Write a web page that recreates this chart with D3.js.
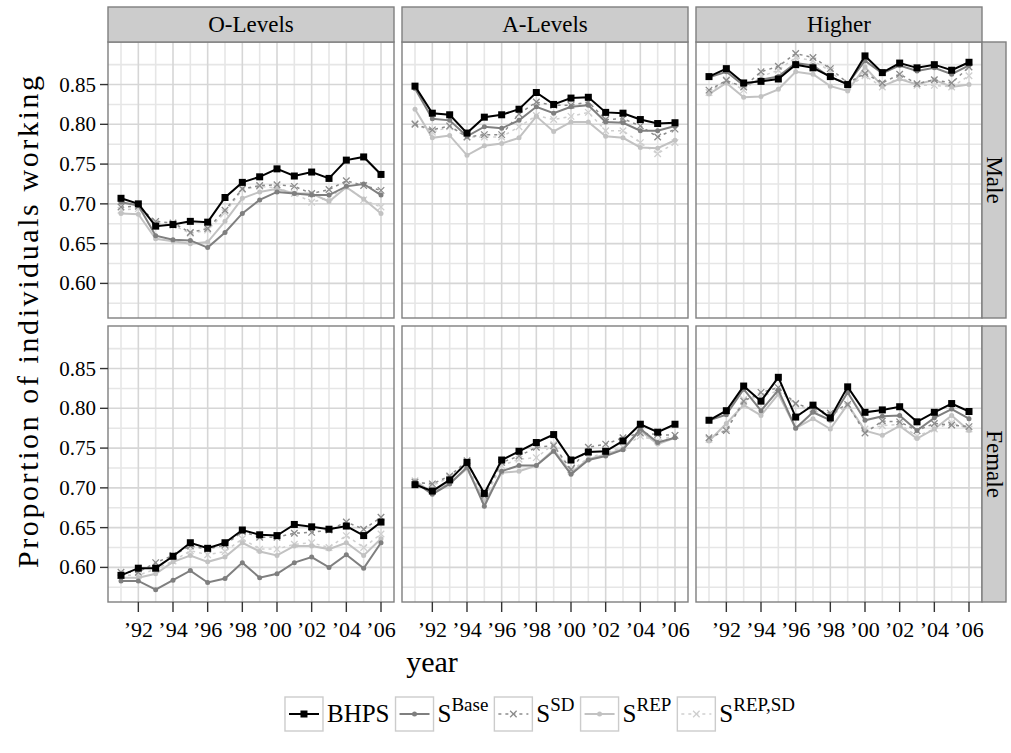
<!DOCTYPE html>
<html>
<head>
<meta charset="utf-8">
<script src="https://cdn.jsdelivr.net/npm/d3@7"></script>
<style>
  html, body { margin: 0; padding: 0; background: #fff; }
  svg { display: block; }
  text { font-family: "Liberation Serif", "DejaVu Serif", serif; fill: #000; }
</style>
</head>
<body>
<svg id="chart" width="1011" height="753" font-family="Liberation Serif, DejaVu Serif, serif"></svg>
<script>
(function() {

  // ---- data ----
  const years = [1991, 1992, 1993, 1994, 1995, 1996, 1997, 1998, 1999, 2000, 2001, 2002, 2003, 2004, 2005, 2006];
  const levels = ['O-Levels', 'A-Levels', 'Higher'];
  const sexes = ['Male', 'Female'];
  const seriesNames = ['BHPS', 'S^Base', 'S^SD', 'S^REP', 'S^REP,SD'];
  const xTickYears = [1992, 1994, 1996, 1998, 2000, 2002, 2004, 2006];
  const xTickLabels = ["\u201992", "\u201994", "\u201996", "\u201998", "\u201900", "\u201902", "\u201904", "\u201906"];
  const yTicks = [0.60, 0.65, 0.70, 0.75, 0.80, 0.85];
  const yTickLabels = ['0.60', '0.65', '0.70', '0.75', '0.80', '0.85'];

  // Male, O-Levels
  const maleOBhps  = [0.707, 0.700, 0.672, 0.674, 0.678, 0.677, 0.708, 0.727, 0.734, 0.744, 0.735, 0.740, 0.732, 0.755, 0.759, 0.737];
  const maleOBase  = [0.702, 0.698, 0.660, 0.655, 0.654, 0.645, 0.664, 0.688, 0.705, 0.715, 0.713, 0.711, 0.711, 0.722, 0.725, 0.711];
  const maleOSd    = [0.696, 0.697, 0.678, 0.676, 0.664, 0.669, 0.692, 0.719, 0.723, 0.724, 0.722, 0.713, 0.718, 0.729, 0.723, 0.717];
  const maleORep   = [0.688, 0.687, 0.656, 0.653, 0.650, 0.652, 0.678, 0.707, 0.715, 0.719, 0.713, 0.713, 0.703, 0.721, 0.706, 0.688];
  const maleORepSd = [0.692, 0.694, 0.676, 0.673, 0.663, 0.667, 0.689, 0.718, 0.722, 0.720, 0.713, 0.702, 0.708, 0.722, 0.705, 0.696];

  // Male, A-Levels
  const maleABhps  = [0.848, 0.814, 0.812, 0.789, 0.809, 0.812, 0.819, 0.840, 0.825, 0.833, 0.834, 0.815, 0.814, 0.806, 0.801, 0.802];
  const maleABase  = [0.845, 0.807, 0.805, 0.785, 0.797, 0.795, 0.805, 0.822, 0.814, 0.822, 0.824, 0.803, 0.802, 0.792, 0.792, 0.798];
  const maleASd    = [0.800, 0.793, 0.798, 0.784, 0.787, 0.787, 0.813, 0.828, 0.824, 0.824, 0.828, 0.806, 0.807, 0.798, 0.784, 0.794];
  const maleARep   = [0.819, 0.783, 0.786, 0.761, 0.773, 0.776, 0.783, 0.810, 0.791, 0.803, 0.803, 0.785, 0.783, 0.771, 0.770, 0.780];
  const maleARepSd = [0.801, 0.790, 0.797, 0.784, 0.784, 0.784, 0.797, 0.811, 0.806, 0.810, 0.815, 0.792, 0.792, 0.777, 0.763, 0.777];

  // Male, Higher
  const maleHBhps  = [0.860, 0.870, 0.852, 0.854, 0.857, 0.875, 0.871, 0.860, 0.850, 0.886, 0.865, 0.877, 0.871, 0.875, 0.868, 0.878];
  const maleHBase  = [0.859, 0.866, 0.849, 0.856, 0.860, 0.877, 0.874, 0.859, 0.851, 0.880, 0.864, 0.874, 0.867, 0.871, 0.863, 0.874];
  const maleHSd    = [0.843, 0.855, 0.847, 0.866, 0.873, 0.889, 0.884, 0.870, 0.852, 0.864, 0.852, 0.863, 0.851, 0.856, 0.852, 0.872];
  const maleHRep   = [0.838, 0.852, 0.834, 0.835, 0.844, 0.866, 0.863, 0.848, 0.842, 0.872, 0.848, 0.857, 0.850, 0.856, 0.847, 0.850];
  const maleHRepSd = [0.840, 0.856, 0.843, 0.860, 0.868, 0.884, 0.880, 0.867, 0.847, 0.861, 0.847, 0.859, 0.849, 0.849, 0.847, 0.861];

  // Female, O-Levels
  const femOBhps  = [0.590, 0.599, 0.599, 0.614, 0.631, 0.624, 0.631, 0.647, 0.641, 0.640, 0.654, 0.651, 0.648, 0.652, 0.640, 0.657];
  const femOBase  = [0.583, 0.583, 0.572, 0.584, 0.596, 0.581, 0.586, 0.606, 0.587, 0.592, 0.606, 0.613, 0.600, 0.616, 0.599, 0.631];
  const femOSd    = [0.594, 0.594, 0.606, 0.615, 0.627, 0.623, 0.628, 0.645, 0.638, 0.638, 0.643, 0.644, 0.647, 0.657, 0.648, 0.663];
  const femORep   = [0.587, 0.587, 0.592, 0.607, 0.615, 0.607, 0.613, 0.631, 0.620, 0.615, 0.627, 0.627, 0.623, 0.631, 0.615, 0.636];
  const femORepSd = [0.590, 0.590, 0.598, 0.608, 0.621, 0.616, 0.620, 0.636, 0.623, 0.623, 0.629, 0.631, 0.625, 0.640, 0.625, 0.642];

  // Female, A-Levels
  const femABhps  = [0.704, 0.696, 0.710, 0.732, 0.693, 0.735, 0.746, 0.757, 0.767, 0.735, 0.745, 0.746, 0.759, 0.780, 0.770, 0.780];
  const femABase  = [0.707, 0.692, 0.705, 0.726, 0.677, 0.721, 0.728, 0.728, 0.746, 0.717, 0.735, 0.740, 0.748, 0.774, 0.757, 0.763];
  const femASd    = [0.707, 0.705, 0.715, 0.734, 0.690, 0.732, 0.740, 0.751, 0.753, 0.723, 0.751, 0.755, 0.763, 0.769, 0.767, 0.766];
  const femARep   = [0.709, 0.694, 0.706, 0.724, 0.682, 0.719, 0.721, 0.728, 0.748, 0.719, 0.736, 0.742, 0.749, 0.772, 0.755, 0.763];
  const femARepSd = [0.709, 0.703, 0.713, 0.728, 0.686, 0.728, 0.736, 0.738, 0.755, 0.721, 0.738, 0.744, 0.751, 0.765, 0.759, 0.766];

  // Female, Higher
  const femHBhps  = [0.785, 0.797, 0.828, 0.809, 0.839, 0.789, 0.804, 0.788, 0.827, 0.795, 0.798, 0.802, 0.783, 0.795, 0.806, 0.796];
  const femHBase  = [0.785, 0.792, 0.824, 0.797, 0.823, 0.775, 0.795, 0.785, 0.820, 0.785, 0.790, 0.791, 0.772, 0.788, 0.799, 0.787];
  const femHSd    = [0.763, 0.772, 0.809, 0.820, 0.826, 0.806, 0.799, 0.794, 0.805, 0.769, 0.784, 0.783, 0.772, 0.781, 0.779, 0.777];
  const femHRep   = [0.759, 0.781, 0.804, 0.791, 0.818, 0.775, 0.787, 0.774, 0.805, 0.772, 0.766, 0.778, 0.762, 0.774, 0.791, 0.772];
  const femHRepSd = [0.761, 0.774, 0.811, 0.815, 0.822, 0.805, 0.797, 0.791, 0.803, 0.774, 0.778, 0.780, 0.765, 0.774, 0.782, 0.774];

  // panel lookup: [sex][level] -> list of series in seriesNames order
  const panelData = [
    [[maleOBhps, maleOBase, maleOSd, maleORep, maleORepSd],
     [maleABhps, maleABase, maleASd, maleARep, maleARepSd],
     [maleHBhps, maleHBase, maleHSd, maleHRep, maleHRepSd]],
    [[femOBhps, femOBase, femOSd, femORep, femORepSd],
     [femABhps, femABase, femASd, femARep, femARepSd],
     [femHBhps, femHBase, femHSd, femHRep, femHRepSd]]
  ];

  // ---- styles per series ----
  const styles = [
    { color: '#000000', dash: null,  shape: 'square', width: 2 },
    { color: '#7f7f7f', dash: null,  shape: 'circle', width: 2 },
    { color: '#8c8c8c', dash: '3,4', shape: 'cross',  width: 1.5 },
    { color: '#c2c2c2', dash: null,  shape: 'circle', width: 2 },
    { color: '#cfcfcf', dash: '3,4', shape: 'cross',  width: 1.5 }
  ];

  const serif = 'Liberation Serif, DejaVu Serif, serif';

  // ---- layout ----
  const colX = [108, 402, 696];
  const rowY = [42, 326];
  const pw = 286;
  const ph = 276;
  const stripH = 35;
  const stripW = 24;

  const svg = d3.select('#chart');

  const x = d3.scaleLinear().domain([1990.25, 2006.75]).range([0, pw]);
  const y = d3.scaleLinear().domain([0.5565, 0.9035]).range([ph, 0]);

  const majorX = xTickYears;
  const minorX = [1991, 1993, 1995, 1997, 1999, 2001, 2003, 2005];
  const minorY = [0.575, 0.625, 0.675, 0.725, 0.775, 0.825, 0.875];

  function drawMarker(g, shape, cx, cy, color, size) {
    if (shape === 'square') {
      g.append('rect')
        .attr('x', cx - size / 2).attr('y', cy - size / 2)
        .attr('width', size).attr('height', size)
        .attr('fill', color);
    } else if (shape === 'circle') {
      g.append('circle')
        .attr('cx', cx).attr('cy', cy).attr('r', size / 2.6)
        .attr('fill', color);
    } else {
      const h = size / 2;
      g.append('path')
        .attr('d', `M${cx - h},${cy - h}L${cx + h},${cy + h}M${cx - h},${cy + h}L${cx + h},${cy - h}`)
        .attr('stroke', color).attr('stroke-width', 1.3).attr('fill', 'none');
    }
  }

  function addText(g, size) {
    return g.append('text').attr('font-family', serif).style('font-size', size + 'px');
  }

  const line = d3.line()
    .x((d, i) => x(years[i]))
    .y(d => y(d));

  sexes.forEach((sex, r) => {
    levels.forEach((lev, c) => {
      const g = svg.append('g').attr('transform', `translate(${colX[c]},${rowY[r]})`);

      g.append('rect').attr('width', pw).attr('height', ph).attr('fill', '#fff');

      // minor grid
      g.selectAll('.minx').data(minorX).enter().append('line')
        .attr('x1', d => x(d)).attr('x2', d => x(d))
        .attr('y1', 0).attr('y2', ph)
        .attr('stroke', '#e6e6e6').attr('stroke-width', 1.6);
      g.selectAll('.miny').data(minorY).enter().append('line')
        .attr('y1', d => y(d)).attr('y2', d => y(d))
        .attr('x1', 0).attr('x2', pw)
        .attr('stroke', '#e6e6e6').attr('stroke-width', 1.6);
      // major grid
      g.selectAll('.majx').data(majorX).enter().append('line')
        .attr('x1', d => x(d)).attr('x2', d => x(d))
        .attr('y1', 0).attr('y2', ph)
        .attr('stroke', '#d6d6d6').attr('stroke-width', 1.6);
      g.selectAll('.majy').data(yTicks).enter().append('line')
        .attr('y1', d => y(d)).attr('y2', d => y(d))
        .attr('x1', 0).attr('x2', pw)
        .attr('stroke', '#d6d6d6').attr('stroke-width', 1.6);

      // series, BHPS drawn last so it sits on top
      const data = panelData[r][c];
      for (let s = data.length - 1; s >= 0; s--) {
        const st = styles[s];
        const sg = g.append('g');
        sg.append('path')
          .datum(data[s])
          .attr('d', line)
          .attr('fill', 'none')
          .attr('stroke', st.color)
          .attr('stroke-width', st.width)
          .attr('stroke-dasharray', st.dash);
        data[s].forEach((v, i) => {
          drawMarker(sg, st.shape, x(years[i]), y(v), st.color, st.shape === 'square' ? 7 : 6.5);
        });
      }

      g.append('rect').attr('width', pw).attr('height', ph)
        .attr('fill', 'none').attr('stroke', '#7f7f7f').attr('stroke-width', 1.4);

      // top strips
      if (r === 0) {
        const sgp = svg.append('g').attr('transform', `translate(${colX[c]},${rowY[0] - stripH})`);
        sgp.append('rect').attr('width', pw).attr('height', stripH)
          .attr('fill', '#cccccc').attr('stroke', '#7f7f7f').attr('stroke-width', 1.4);
        addText(sgp, 23).attr('x', pw / 2).attr('y', stripH / 2 + 7)
          .attr('text-anchor', 'middle').text(lev);
      }
      // right strips
      if (c === 2) {
        const sgp = svg.append('g').attr('transform', `translate(${colX[2] + pw},${rowY[r]})`);
        sgp.append('rect').attr('width', stripW).attr('height', ph)
          .attr('fill', '#cccccc').attr('stroke', '#7f7f7f').attr('stroke-width', 1.4);
        addText(sgp, 23)
          .attr('transform', `translate(${stripW / 2 - 7},${ph / 2}) rotate(90)`)
          .attr('text-anchor', 'middle').text(sex);
      }
      // y axis
      if (c === 0) {
        yTicks.forEach((t, i) => {
          g.append('line').attr('x1', -8).attr('x2', 0)
            .attr('y1', y(t)).attr('y2', y(t))
            .attr('stroke', '#333').attr('stroke-width', 1.4);
          addText(g, 21).attr('x', -12).attr('y', y(t) + 7)
            .attr('text-anchor', 'end').text(yTickLabels[i]);
        });
      }
      // x axis
      if (r === 1) {
        xTickYears.forEach((t, i) => {
          g.append('line').attr('x1', x(t)).attr('x2', x(t))
            .attr('y1', ph).attr('y2', ph + 10)
            .attr('stroke', '#333').attr('stroke-width', 1.4);
          addText(g, 22).attr('x', x(t)).attr('y', ph + 35)
            .attr('text-anchor', 'middle').text(xTickLabels[i]);
        });
      }
    });
  });

  // axis titles
  addText(svg, 30)
    .attr('transform', 'translate(38,322) rotate(-90)')
    .attr('text-anchor', 'middle')
    .attr('textLength', 492).attr('lengthAdjust', 'spacing')
    .text('Proportion of individuals working');
  addText(svg, 30)
    .attr('x', 432).attr('y', 672)
    .attr('text-anchor', 'middle')
    .text('year');

  // legend
  const legItems = [
    { base: 'BHPS', sup: null },
    { base: 'S', sup: 'Base' },
    { base: 'S', sup: 'SD' },
    { base: 'S', sup: 'REP' },
    { base: 'S', sup: 'REP,SD' }
  ];
  const keyW = 38;
  const keyH = 34;
  const legY = 697;
  const leg = svg.append('g');
  let lx = 0;
  legItems.forEach((it, i) => {
    const kg = leg.append('g').attr('transform', `translate(${lx},${legY})`);
    kg.append('rect').attr('width', keyW).attr('height', keyH)
      .attr('fill', '#fff').attr('stroke', '#cccccc').attr('stroke-width', 1.4);
    const st = styles[i];
    kg.append('line').attr('x1', 4).attr('x2', keyW - 4)
      .attr('y1', keyH / 2).attr('y2', keyH / 2)
      .attr('stroke', st.color).attr('stroke-width', st.width)
      .attr('stroke-dasharray', st.dash);
    drawMarker(kg, st.shape, keyW / 2, keyH / 2, st.color, st.shape === 'square' ? 7 : 6.5);
    const t = addText(leg, 25).attr('x', lx + keyW + 4).attr('y', legY + keyH / 2 + 8);
    t.append('tspan').text(it.base);
    if (it.sup) {
      t.append('tspan').attr('dy', -11).style('font-size', '19px').text(it.sup);
    }
    lx += keyW + 4 + t.node().getComputedTextLength() + 6;
  });
  const legW = lx - 6;
  leg.attr('transform', `translate(${540 - legW / 2},0)`);

})();
</script>
</body>
</html>
